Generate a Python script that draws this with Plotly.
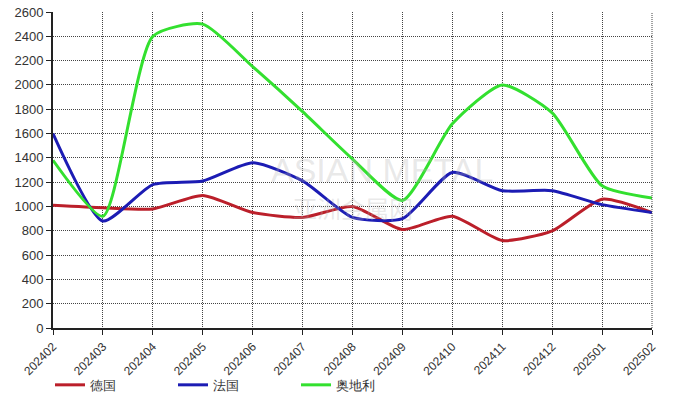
import plotly.graph_objects as go

months = ["202402", "202403", "202404", "202405", "202406", "202407", "202408",
          "202409", "202410", "202411", "202412", "202501", "202502"]
germany = [1010, 990, 980, 1090, 950, 910, 1000, 810, 920, 720, 800, 1060, 950]
france = [1600, 880, 1180, 1210, 1360, 1210, 910, 900, 1280, 1130, 1130, 1015, 950]
austria = [1380, 920, 2400, 2500, 2150, 1780, 1390, 1050, 1680, 2000, 1770, 1170, 1070]
y_ticks = list(range(0, 2601, 200))

series = [
    ("德国", germany, "#bb1f2a"),
    ("法国", france, "#1c1cb4"),
    ("奥地利", austria, "#33e02f"),
]

fig = go.Figure()
for name, vals, color in series:
    fig.add_trace(go.Scatter(
        x=list(range(len(months))), y=vals, name=name, mode="lines",
        line=dict(color=color, width=3, shape="spline", smoothing=0.6),
    ))

font = dict(family="Liberation Sans, Arial, sans-serif", size=12, color="#333333")

fig.update_layout(
    width=693, height=399,
    margin=dict(l=53, r=41, t=12, b=71, autoexpand=False),
    paper_bgcolor="white", plot_bgcolor="white",
    font=font,
    showlegend=True,
    legend=dict(orientation="h", x=-0.005, y=-0.18, xanchor="left", yanchor="middle",
                font=dict(size=13, color="#333333"), entrywidth=78, entrywidthmode="pixels",
                bgcolor="rgba(0,0,0,0)"),
    xaxis=dict(
        tickmode="array", tickvals=list(range(len(months))), ticktext=months,
        range=[0, len(months) - 1], tickangle=-45,
        showgrid=True, gridcolor="#444444", griddash="1px,1px", gridwidth=1,
        showline=True, linecolor="#222222", linewidth=2,
        ticks="outside", ticklen=5, tickcolor="#222222",
        zeroline=False, tickfont=dict(size=12, color="#333333"),
    ),
    yaxis=dict(
        tickmode="array", tickvals=y_ticks, range=[0, 2600],
        showgrid=True, gridcolor="#444444", griddash="1px,1px", gridwidth=1,
        showline=True, linecolor="#222222", linewidth=2,
        ticks="outside", ticklen=5, tickcolor="#222222",
        zeroline=False, tickfont=dict(size=13, color="#333333"),
    ),
)

# right edge dotted line (frame)
fig.add_shape(type="line", xref="paper", yref="paper", x0=1, x1=1, y0=0, y1=1,
              line=dict(color="#444444", width=1, dash="1px,1px"))

# faint watermark
fig.add_annotation(x=0.55, y=0.5, xref="paper", yref="paper", text="ASIAN METAL",
                   showarrow=False, font=dict(size=34, color="rgba(180,180,180,0.3)",
                                              family="Liberation Sans, Arial"))
fig.add_annotation(x=0.5, y=0.38, xref="paper", yref="paper", text="亚洲金属网",
                   showarrow=False, font=dict(size=24, color="rgba(180,180,180,0.3)",
                                              family="Noto Sans CJK SC"))

fig.write_html("out.html", config={"displayModeBar": False},
               post_script="document.body.style.margin='0';")
